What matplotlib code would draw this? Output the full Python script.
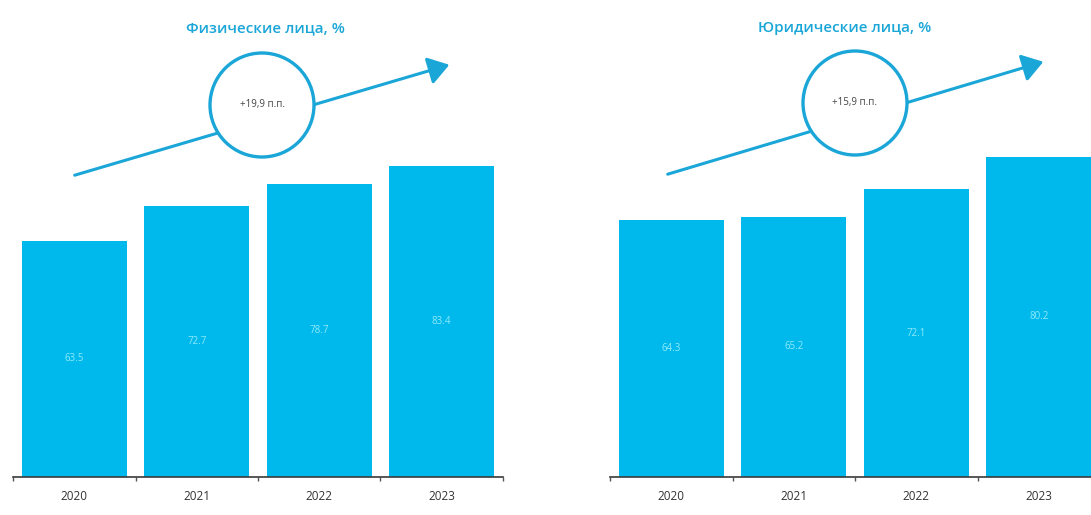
import numpy as np
import matplotlib.pyplot as plt
from matplotlib.patches import Circle, FancyArrowPatch

years = ['2020', '2021', '2022', '2023']
individuals = [63.5, 72.7, 78.7, 83.4]
companies = [64.3, 65.2, 72.1, 80.2]
titles = ['Физические лица, %', 'Юридические лица, %']
growth = ['+19,9 п.п.', '+15,9 п.п.']

BAR = '#00b9ec'
BLUE = '#1ba6d8'
LABEL = '#8eeafa'

plt.rcParams['font.family'] = ['Open Sans', 'DejaVu Sans']

W, H = 1091, 515
fig = plt.figure(figsize=(W / 100, H / 100), dpi=100)


def px_axes(x0, x1, y_base, y_top):
    return fig.add_axes([x0 / W, (H - y_base) / H, (x1 - x0) / W, (y_base - y_top) / H])


def draw_panel(ax, values, ymax):
    x = np.arange(len(years))
    ax.bar(x, values, width=0.86, color=BAR)
    for xi, v in zip(x, values):
        ax.text(xi, v / 2, f'{v:.1f}', ha='center', va='center',
                color=LABEL, fontsize=7)
    ax.set_xlim(-0.5, len(years) - 0.5)
    ax.set_ylim(0, ymax)
    ax.set_xticks(x)
    ax.set_xticklabels(years, fontsize=8.5, color='#333333')
    ax.tick_params(axis='x', which='major', length=0, pad=9)
    ax.set_xticks(np.arange(len(years) + 1) - 0.5, minor=True)
    ax.tick_params(axis='x', which='minor', length=3, color='#555555', width=1)
    ax.set_yticks([])
    for s in ['top', 'right', 'left']:
        ax.spines[s].set_visible(False)
    ax.spines['bottom'].set_color('#3a3a3a')
    ax.spines['bottom'].set_linewidth(1.2)


ax1 = px_axes(13, 503, 477, 60)
draw_panel(ax1, individuals, (477 - 60) * 0.2685)
ax2 = px_axes(610, 1100, 477, 60)
draw_panel(ax2, companies, (477 - 60) * 0.2505)


def decor(title, tx, start, end, center, label):
    fig.text(tx / W, (H - 28) / H, title, ha='center', va='center',
             color=BLUE, fontsize=11, fontweight='semibold')
    tr = fig.dpi_scale_trans
    arrow = FancyArrowPatch((start[0] / 100, (H - start[1]) / 100),
                            (end[0] / 100, (H - end[1]) / 100),
                            transform=tr, arrowstyle='-|>,head_length=0.9,head_width=0.6',
                            mutation_scale=14, color=BLUE, lw=2.2)
    fig.add_artist(arrow)
    circ = Circle((center[0] / 100, (H - center[1]) / 100), 0.52, transform=tr,
                  facecolor='white', edgecolor=BLUE, lw=2.4, zorder=5)
    fig.add_artist(circ)
    fig.text(center[0] / W, (H - center[1]) / H, label, ha='center', va='center',
             color='#444444', fontsize=7, zorder=6)


decor(titles[0], 265, (72, 176), (452, 64), (262, 105), growth[0])
decor(titles[1], 845, (665, 175), (1046, 61), (855, 103), growth[1])

fig.savefig('out.png', dpi=100)
